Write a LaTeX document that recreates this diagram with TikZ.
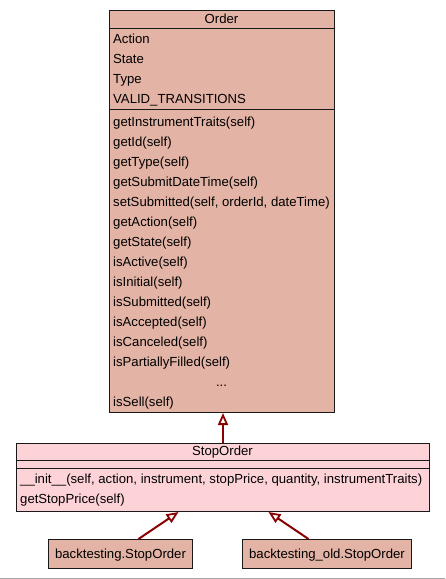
\documentclass[tikz,border=0pt]{standalone}
\usepackage{fontspec}
\setmainfont{Liberation Sans}
\usetikzlibrary{arrows.meta,calc}
\definecolor{ordfill}{HTML}{E3B3A5}
\definecolor{stopfill}{HTML}{FED3D8}
\definecolor{arrowred}{HTML}{8B0000}
\begin{document}
\begin{tikzpicture}[x=1pt,y=-1pt,
  font=\fontsize{13.15}{16}\selectfont,
  txt/.style={anchor=base west, inner sep=0pt},
  ttl/.style={anchor=base, inner sep=0pt},
  box/.style={draw=black!90, line width=1pt, inner sep=0pt, anchor=north west},
  sep/.style={draw=black!90, line width=1pt},
  inh/.style={draw=arrowred, line width=2pt,
    -{Triangle[open,length=12pt,width=10pt,line width=1.8pt]}}]
\useasboundingbox (0,0) rectangle (445,579);
\fill[white] (0,0) rectangle (445,579);
\draw[draw=black!35, line width=1pt] (0,578) -- (445,578);

% Order class
\node[box, fill=ordfill, minimum width=225pt, minimum height=402pt] (order) at (109,10) {};
\draw[sep] (order.west |- 0,28) -- (order.east |- 0,28);
\draw[sep] (order.west |- 0,109) -- (order.east |- 0,109);
\node[ttl] (ordt) at (221.5,23) {Order};
\node[txt] (oa1) at (113,43) {Action};
\node[txt] (oa2) at (113,63) {State};
\node[txt] (oa3) at (113,83) {Type};
\node[txt] (oa4) at (113,103) {VALID\_TRANSITIONS};
\node[txt] (om1) at (113,126) {getInstrumentTraits(self)};
\node[txt] (om2) at (113,146) {getId(self)};
\node[txt] (om3) at (113,166) {getType(self)};
\node[txt] (om4) at (113,186) {getSubmitDateTime(self)};
\node[txt] (om5) at (113,206) {setSubmitted(self, orderId, dateTime)};
\node[txt] (om6) at (113,226) {getAction(self)};
\node[txt] (om7) at (113,246) {getState(self)};
\node[txt] (om8) at (113,266) {isActive(self)};
\node[txt] (om9) at (113,286) {isInitial(self)};
\node[txt] (om10) at (113,306) {isSubmitted(self)};
\node[txt] (om11) at (113,326) {isAccepted(self)};
\node[txt] (om12) at (113,346) {isCanceled(self)};
\node[txt] (om13) at (113,366) {isPartiallyFilled(self)};
\node[ttl] (om14) at (221.5,386) {...};
\node[txt] (om15) at (113,406) {isSell(self)};

% StopOrder class
\node[box, fill=stopfill, minimum width=413pt, minimum height=68pt] (stop) at (16,443) {};
\draw[sep] (stop.west |- 0,460) -- (stop.east |- 0,460);
\draw[sep] (stop.west |- 0,468) -- (stop.east |- 0,468);
\node[ttl] (stopt) at (222.5,455) {StopOrder};
\node[txt] (sm1) at (20,483) {\_\_init\_\_(self, action, instrument, stopPrice, quantity, instrumentTraits)};
\node[txt] (sm2) at (20,503) {getStopPrice(self)};

% subclasses
\node[box, fill=ordfill, minimum width=144pt, minimum height=29pt] (bt) at (48,539) {};
\node[ttl] (btt) at (bt.center |- 0,558) {backtesting.StopOrder};
\node[box, fill=ordfill, minimum width=169pt, minimum height=29pt] (bto) at (242,539) {};
\node[ttl] (btot) at (bto.center |- 0,558) {backtesting\_old.StopOrder};

% inheritance arrows
\draw[inh] (stop.north) -- (stop.north |- order.south);
\draw[inh] ($(bt.north)+(18,0)$) -- ($(stop.south)+(-44.5,0)$);
\draw[inh] ($(bto.north)+(-18.5,0)$) -- ($(stop.south)+(45.5,0)$);
\end{tikzpicture}
\end{document}
